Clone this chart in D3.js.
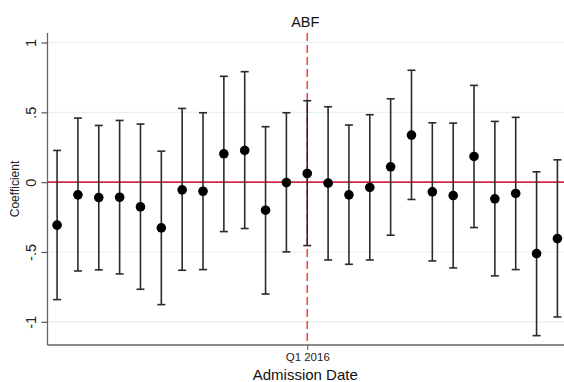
<!DOCTYPE html>
<html>
<head>
<meta charset="utf-8">
<script src="https://cdn.jsdelivr.net/npm/d3@7"></script>
<style>
  html, body { margin: 0; padding: 0; background: #fff; }
  svg { display: block; }
  text { font-family: "Liberation Sans", Arial, sans-serif; }
</style>
</head>
<body>
<div id="chart"></div>
<script>
// ---- data ----
const quarters = d3.range(-12, 13); // quarter offset relative to Q1 2016
const coef  = [-0.308,-0.091,-0.110,-0.108,-0.177,-0.327,-0.055,-0.065,0.203,0.227,-0.201,-0.003,0.062,-0.007,-0.091,-0.038,0.110,0.337,-0.069,-0.096,0.184,-0.119,-0.081,-0.511,-0.404];
const upper = [0.227,0.459,0.406,0.442,0.416,0.222,0.528,0.497,0.758,0.791,0.397,0.497,0.583,0.540,0.409,0.483,0.597,0.801,0.425,0.423,0.693,0.435,0.464,0.074,0.160];
const lower = [-0.841,-0.636,-0.628,-0.657,-0.767,-0.877,-0.631,-0.626,-0.354,-0.332,-0.801,-0.499,-0.454,-0.557,-0.588,-0.557,-0.380,-0.124,-0.564,-0.614,-0.325,-0.671,-0.626,-1.099,-0.965];
const yTicks = [-1, -0.5, 0, 0.5, 1];
const yTickLabels = ["-1", "-.5", "0", ".5", "1"];
const xTicks = [0];
const xTickLabels = ["Q1 2016"];
const eventQuarter = 0;
const eventLabel = "ABF";
const yTitle = "Coefficient";
const xTitle = "Admission Date";

const data = quarters.map((q, i) => ({ q, c: coef[i], hi: upper[i], lo: lower[i] }));

// ---- layout ----
const W = 564, H = 382;
const mLeft = 47.5, mRight = 567, mTop = 33, mBottom = 345;

const x = d3.scaleLinear().domain([-12.46, 12.46]).range([mLeft, mRight]);
const y = d3.scaleLinear().domain([-1.166, 1.068]).range([mBottom, mTop]);

const svg = d3.select("#chart").append("svg")
  .attr("width", W).attr("height", H);

// gridlines
svg.append("g").selectAll("line")
  .data(yTicks.filter(t => t !== 0))
  .join("line")
  .attr("x1", mLeft).attr("x2", W)
  .attr("y1", d => y(d)).attr("y2", d => y(d))
  .attr("stroke", "#e6eff1").attr("stroke-width", 1.2);

// zero line
svg.append("line")
  .attr("x1", mLeft).attr("x2", W)
  .attr("y1", y(0)).attr("y2", y(0))
  .attr("stroke", "#d0284a").attr("stroke-width", 1.6);

// event line
svg.append("line")
  .attr("x1", x(eventQuarter)).attr("x2", x(eventQuarter))
  .attr("y1", mTop).attr("y2", mBottom)
  .attr("stroke", "#ff3b3b").attr("stroke-width", 1.5)
  .attr("stroke-dasharray", "8,4");

svg.append("text")
  .attr("x", x(eventQuarter) - 2).attr("y", 27)
  .attr("text-anchor", "middle")
  .attr("font-size", 14.5).attr("fill", "#111")
  .text(eventLabel);

// y axis
const yAxis = d3.axisLeft(y).tickValues(yTicks)
  .tickFormat((d, i) => yTickLabels[i]).tickSize(6).tickPadding(6);
const gy = svg.append("g").attr("transform", `translate(${mLeft},0)`).call(yAxis);
gy.select(".domain").attr("stroke", "#666").attr("stroke-width", 1.3)
  .attr("d", `M0,${mTop}V${mBottom}`);
gy.selectAll(".tick line").attr("stroke", "#555").attr("stroke-width", 1.2);
gy.selectAll(".tick text")
  .attr("font-size", 14.5).attr("fill", "#222")
  .attr("text-anchor", "middle")
  .attr("x", null).attr("dy", null)
  .attr("transform", "translate(-12,0) rotate(-90)")
  .attr("y", 0);

// x axis
const xAxis = d3.axisBottom(x).tickValues(xTicks)
  .tickFormat((d, i) => xTickLabels[i]).tickSize(5).tickPadding(3);
const gx = svg.append("g").attr("transform", `translate(0,${mBottom})`).call(xAxis);
gx.select(".domain").attr("stroke", "#666").attr("stroke-width", 1.3)
  .attr("d", `M${mLeft},0H${W}`);
gx.selectAll(".tick line").attr("stroke", "#555");
gx.selectAll(".tick text").attr("font-size", 11.5).attr("fill", "#222");

// axis titles
svg.append("text")
  .attr("transform", `translate(19,${(mTop + mBottom) / 2}) rotate(-90)`)
  .attr("text-anchor", "middle")
  .attr("font-size", 12).attr("fill", "#222")
  .text(yTitle);

svg.append("text")
  .attr("x", x(0) - 2).attr("y", 379.5)
  .attr("text-anchor", "middle")
  .attr("font-size", 15).attr("fill", "#111")
  .text(xTitle);

// error bars
const eb = svg.append("g");
eb.selectAll("line.v").data(data).join("line").attr("class", "v")
  .attr("x1", d => x(d.q)).attr("x2", d => x(d.q))
  .attr("y1", d => y(d.hi)).attr("y2", d => y(d.lo))
  .attr("stroke", "#2a2a2a").attr("stroke-width", 1.6);
eb.selectAll("line.cu").data(data).join("line").attr("class", "cu")
  .attr("x1", d => x(d.q) - 4).attr("x2", d => x(d.q) + 4)
  .attr("y1", d => y(d.hi)).attr("y2", d => y(d.hi))
  .attr("stroke", "#2a2a2a").attr("stroke-width", 1.6);
eb.selectAll("line.cl").data(data).join("line").attr("class", "cl")
  .attr("x1", d => x(d.q) - 4).attr("x2", d => x(d.q) + 4)
  .attr("y1", d => y(d.lo)).attr("y2", d => y(d.lo))
  .attr("stroke", "#2a2a2a").attr("stroke-width", 1.6);

// points
svg.append("g").selectAll("circle").data(data).join("circle")
  .attr("cx", d => x(d.q)).attr("cy", d => y(d.c))
  .attr("r", 4.8).attr("fill", "#000");
</script>
</body>
</html>
